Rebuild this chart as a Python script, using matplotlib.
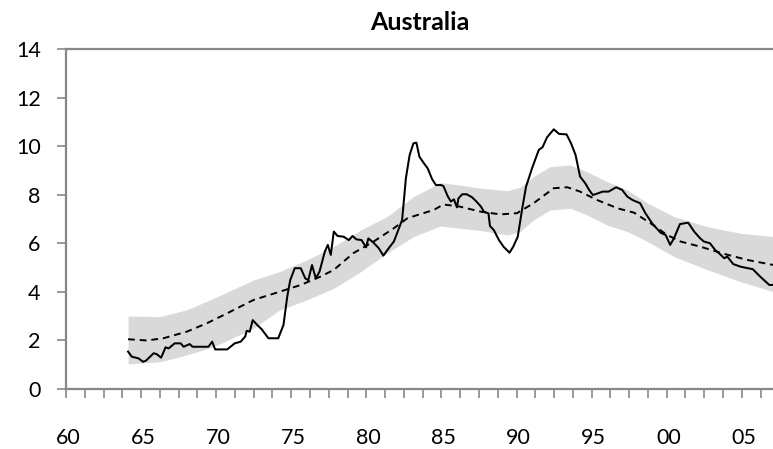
import numpy as np
import matplotlib
matplotlib.use("Agg")
import matplotlib.pyplot as plt

plt.rcParams['font.family'] = ['Lato', 'DejaVu Sans']

title = "Australia"

actual_years = [1964.0, 1964.25, 1964.7, 1965.0, 1965.2, 1965.7, 1965.9, 1966.2, 1966.5, 1966.7,
                1967.1, 1967.5, 1967.7, 1968.1, 1968.3, 1969.35, 1969.6, 1969.8, 1970.6, 1971.1,
                1971.5, 1971.8, 1971.9, 1972.1, 1972.3, 1972.6, 1972.9, 1973.35, 1974.0, 1974.35,
                1974.6, 1974.8, 1975.1, 1975.5, 1975.8, 1976.0, 1976.25, 1976.5, 1976.75, 1977.1,
                1977.3, 1977.5, 1977.7, 1977.95, 1978.35, 1978.7, 1978.95, 1979.2, 1979.55, 1979.85,
                1980.0, 1980.35, 1980.7, 1981.0, 1981.35, 1981.7, 1982.0, 1982.25, 1982.5, 1982.75,
                1983.0, 1983.2, 1983.4, 1983.7, 1983.95, 1984.25, 1984.5, 1984.85, 1985.0, 1985.3,
                1985.5, 1985.7, 1985.9, 1986.0, 1986.25, 1986.55, 1986.9, 1987.2, 1987.5, 1987.7,
                1988.0, 1988.1, 1988.35, 1988.7, 1989.0, 1989.4, 1989.65, 1989.95, 1990.25, 1990.5,
                1990.9, 1991.35, 1991.6, 1991.9, 1992.35, 1992.7, 1993.2, 1993.5, 1993.8, 1994.1,
                1994.45, 1994.7, 1994.95, 1995.3, 1995.6, 1996.0, 1996.5, 1996.9, 1997.25, 1997.6,
                1998.1, 1998.45, 1998.9, 1999.45, 1999.8, 2000.1, 2000.35, 2000.75, 2001.3, 2001.7,
                2002.1, 2002.35, 2002.75, 2003.1, 2003.4, 2003.7, 2003.9, 2004.3, 2004.8, 2005.6,
                2006.1, 2006.7, 2007.0]
actual_values = [1.53, 1.32, 1.25, 1.11, 1.16, 1.46, 1.43, 1.28, 1.71, 1.66,
                 1.87, 1.87, 1.73, 1.84, 1.73, 1.73, 1.94, 1.62, 1.62, 1.87,
                 1.94, 2.15, 2.39, 2.35, 2.83, 2.63, 2.45, 2.08, 2.08, 2.63,
                 3.80, 4.48, 4.97, 4.97, 4.55, 4.48, 5.10, 4.55, 4.83, 5.65,
                 5.93, 5.52, 6.48, 6.30, 6.27, 6.13, 6.30, 6.16, 6.13, 5.83,
                 6.20, 6.02, 5.79, 5.49, 5.79, 6.07, 6.55, 6.96, 8.68, 9.64,
                 10.12, 10.15, 9.57, 9.30, 9.09, 8.64, 8.40, 8.40, 8.36, 7.92,
                 7.72, 7.81, 7.48, 7.85, 8.02, 8.02, 7.90, 7.72, 7.51, 7.30,
                 7.23, 6.71, 6.55, 6.13, 5.86, 5.61, 5.86, 6.27, 7.44, 8.33,
                 9.09, 9.85, 9.96, 10.37, 10.70, 10.51, 10.49, 10.12, 9.64, 8.75,
                 8.47, 8.20, 7.99, 8.06, 8.13, 8.13, 8.31, 8.20, 7.92, 7.78,
                 7.65, 7.24, 6.82, 6.44, 6.34, 5.93, 6.20, 6.79, 6.85, 6.48,
                 6.20, 6.07, 6.00, 5.72, 5.56, 5.38, 5.45, 5.14, 5.03, 4.93,
                 4.62, 4.28, 4.28]

# trend (dashed)
trend_years = [1964.0, 1965.25, 1966.35, 1967.9, 1969.25, 1970.6, 1972.35, 1974.1, 1975.5, 1976.8,
               1977.7, 1979.0, 1980.35, 1981.7, 1982.6, 1983.5, 1984.35, 1985.0, 1986.1, 1987.5,
               1988.8, 1989.9, 1991.0, 1992.35, 1993.25, 1994.1, 1995.25, 1996.6, 1997.7, 1998.8,
               1999.9, 2000.8, 2002.1, 2003.7, 2005.25, 2007.0]
trend_values = [2.04, 1.99, 2.08, 2.35, 2.70, 3.11, 3.66, 4.00, 4.28, 4.62,
                4.90, 5.59, 6.07, 6.62, 7.03, 7.21, 7.37, 7.60, 7.51, 7.30,
                7.19, 7.24, 7.65, 8.27, 8.31, 8.13, 7.78, 7.44, 7.26, 6.82,
                6.34, 6.07, 5.86, 5.56, 5.31, 5.10]

# band (grey)
band_years = [1964.0, 1966.1, 1967.9, 1969.7, 1972.35, 1974.1, 1975.9, 1977.7, 1979.5, 1981.25,
              1983.0, 1984.8, 1986.1, 1987.5, 1989.25, 1990.1, 1991.0, 1992.1, 1993.45, 1994.55,
              1995.9, 1997.25, 1998.6, 2000.35, 2002.6, 2004.8, 2007.0]
band_upper = [3.00, 2.97, 3.25, 3.73, 4.48, 4.83, 5.31, 5.86, 6.55, 7.10,
              7.92, 8.50, 8.40, 8.27, 8.17, 8.31, 8.75, 9.16, 9.23, 8.95,
              8.54, 8.20, 7.65, 7.10, 6.68, 6.41, 6.27]
band_lower = [1.02, 1.11, 1.39, 1.73, 2.49, 3.25, 3.66, 4.14, 4.83, 5.59,
              6.27, 6.71, 6.62, 6.52, 6.34, 6.48, 6.96, 7.37, 7.44, 7.17,
              6.75, 6.48, 6.07, 5.45, 4.90, 4.41, 4.00]

x_label_years = [1960, 1965, 1970, 1975, 1980, 1985, 1990, 1995, 2000, 2005]
x_labels = ["60", "65", "70", "75", "80", "85", "90", "95", "00", "05"]
y_ticks = [0, 2, 4, 6, 8, 10, 12, 14]

W, H = 773, 449
fig = plt.figure(figsize=(W / 100, H / 100), dpi=100)
ax = fig.add_axes([66 / W, (H - 388.7) / H, 1 - 66 / W + 0.002, (388.7 - 49.3) / H])

x_left = 1959.867
x_right = 2007.05
ax.set_xlim(x_left, x_right)
ax.set_ylim(0, 14)

ax.fill_between(band_years, band_lower, band_upper, color='#D9D9D9', linewidth=0, zorder=1)
ax.plot(trend_years, trend_values, color='black', lw=1.4, linestyle=(0, (3.5, 2.5)), zorder=2)
ax.plot(actual_years, actual_values, color='black', lw=1.45, zorder=3)

spine_col = '#878787'
for s in ['left', 'bottom', 'top']:
    ax.spines[s].set_color(spine_col)
    ax.spines[s].set_linewidth(1.6)
ax.spines['right'].set_visible(False)

ax.set_yticks(y_ticks)
ax.set_yticklabels([str(v) for v in y_ticks])
ax.tick_params(axis='y', direction='out', length=6.2, width=1.2, color=spine_col,
               pad=12, labelsize=15.5, labelcolor='black')

ax.set_xticks(x_label_years)
ax.set_xticklabels(x_labels)
ax.tick_params(axis='x', which='major', length=0, pad=28, labelsize=15.5, labelcolor='black')
ax.set_xticks(np.arange(x_left, x_right, 1.25), minor=True)
ax.tick_params(axis='x', which='minor', direction='out', length=6.2, width=1.2, color=spine_col)

fig.text(0.5 * (66 / W + 1), (H - 22) / H, title, ha='center', va='center',
         fontsize=18, fontweight='bold')

fig.savefig('out.png', dpi=100)
